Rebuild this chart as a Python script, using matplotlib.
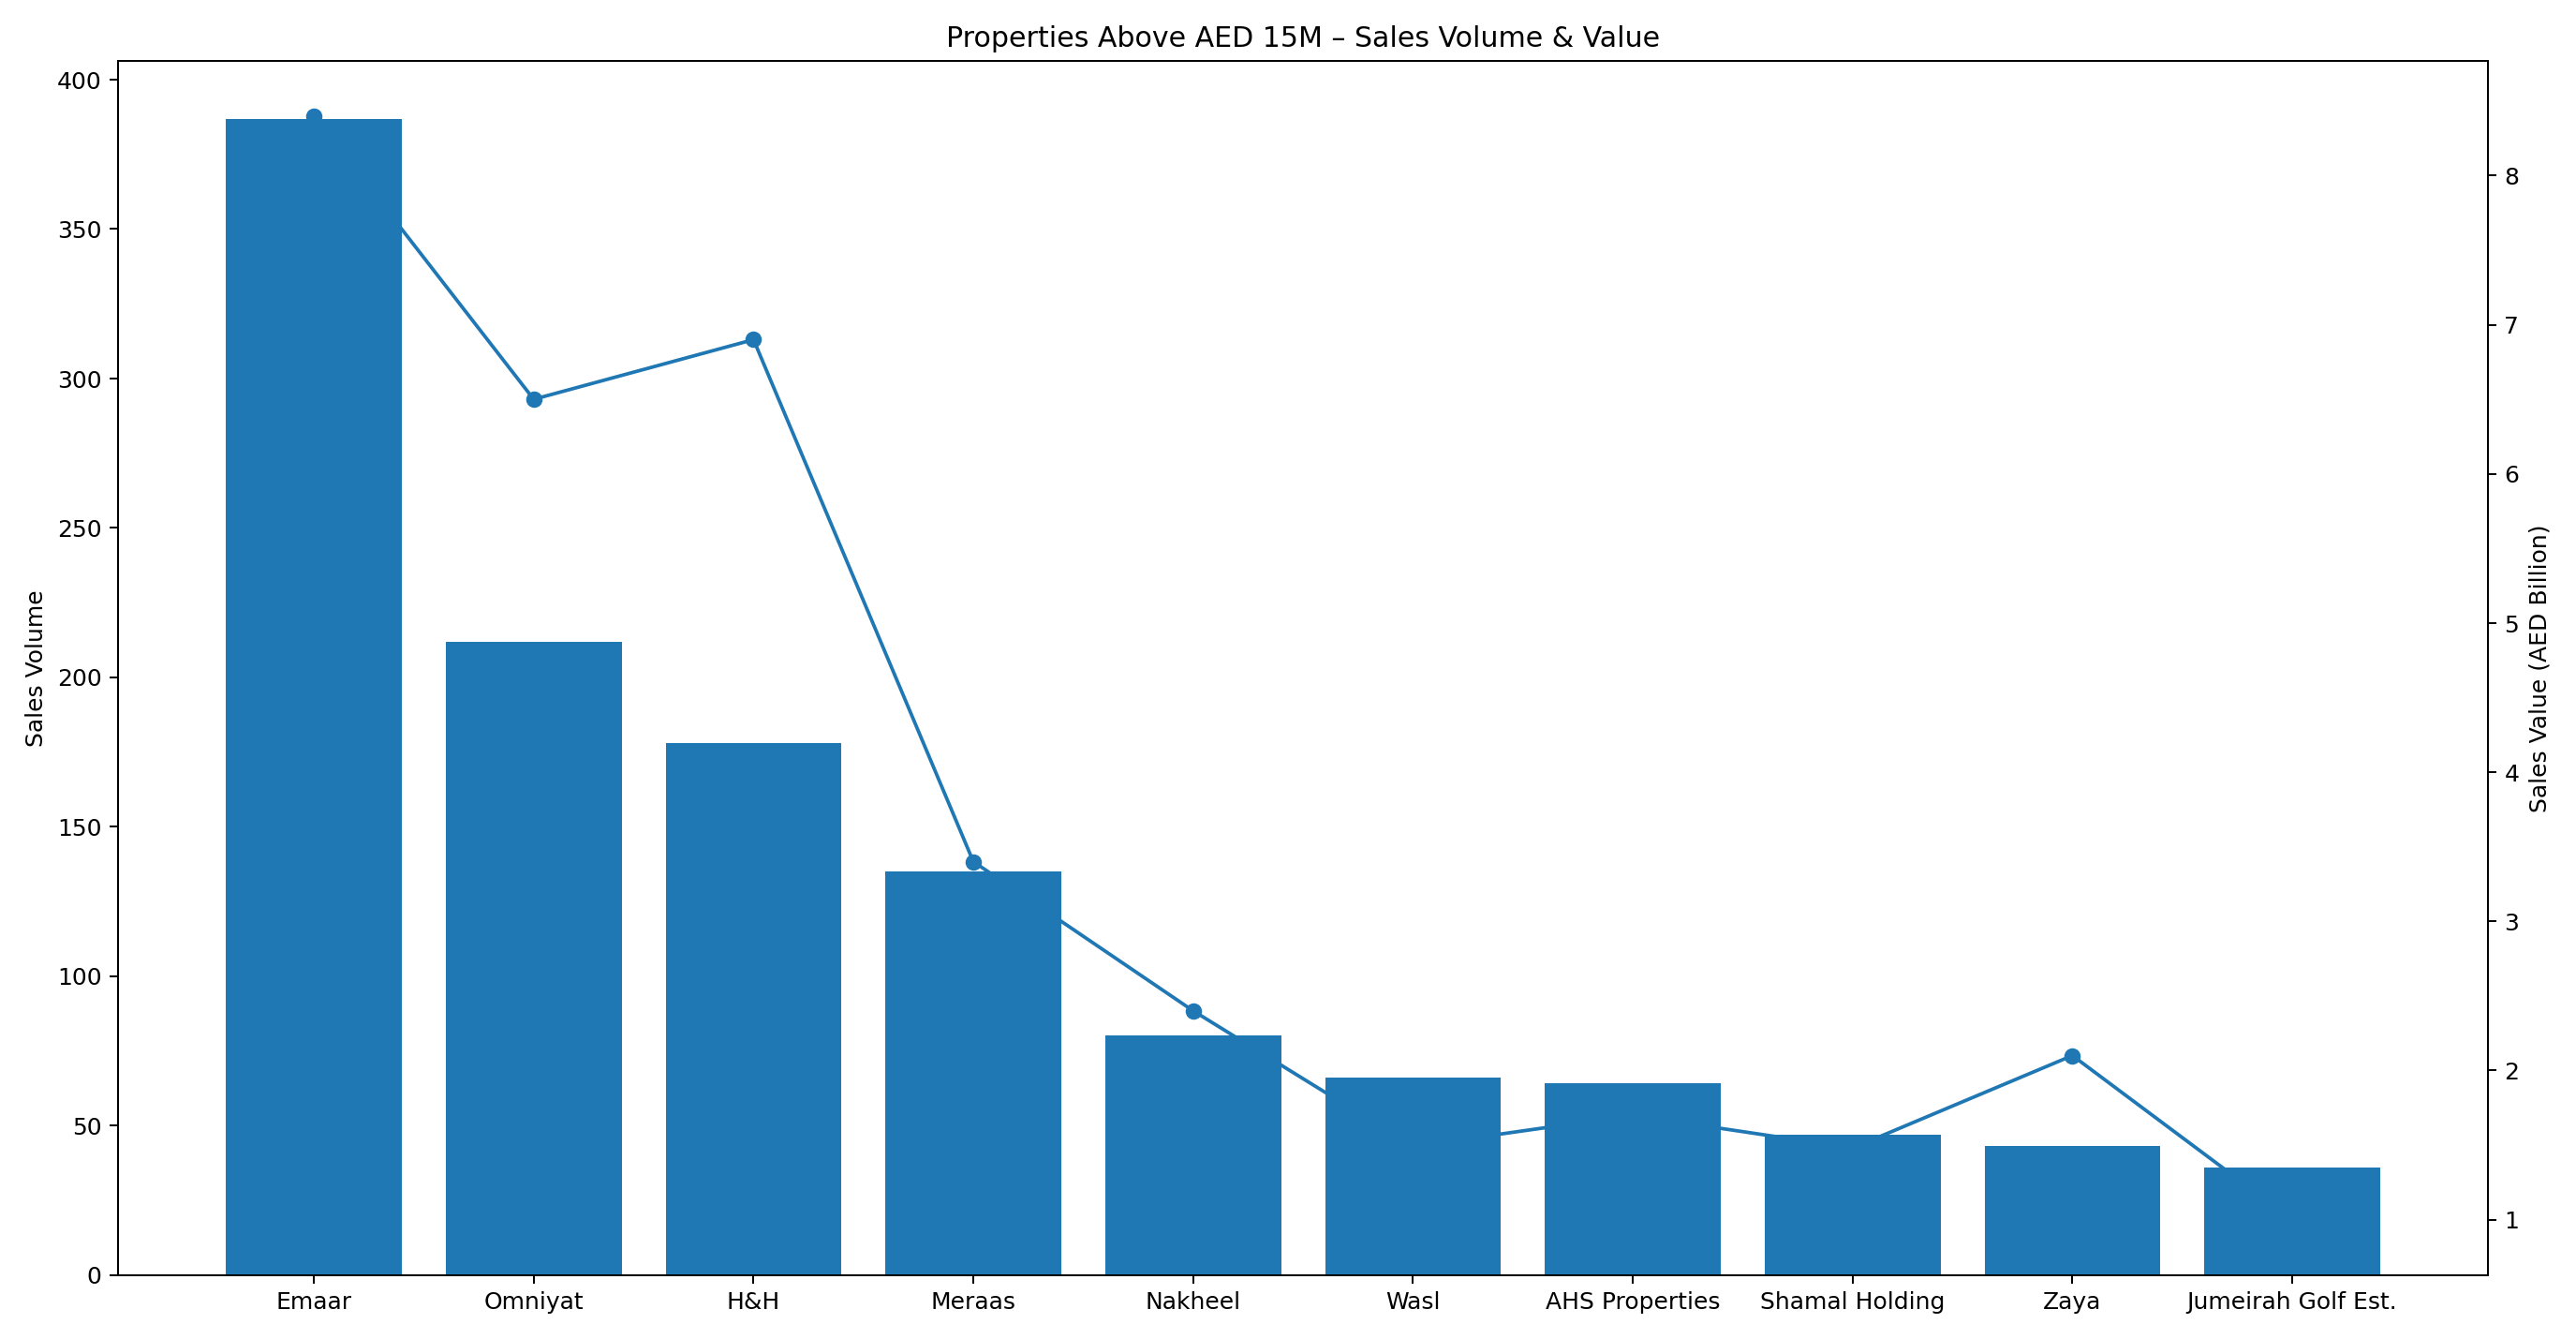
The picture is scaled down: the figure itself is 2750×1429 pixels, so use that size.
import matplotlib
matplotlib.use("Agg")
import matplotlib.pyplot as plt

developers = ["Emaar", "Omniyat", "H&H", "Meraas", "Nakheel", "Wasl",
              "AHS Properties", "Shamal Holding", "Zaya", "Jumeirah Golf Est."]
volume = [387, 212, 178, 135, 80, 66, 64, 47, 43, 36]
value_bn = [8.4, 6.5, 6.9, 3.4, 2.4, 1.49, 1.7, 1.48, 2.1, 1.0]

fig, ax1 = plt.subplots(figsize=(15.28, 7.94), dpi=180)
ax1.bar(developers, volume, color="#1f77b4")
ax1.set_ylabel("Sales Volume")

ax2 = ax1.twinx()
ax2.plot(developers, value_bn, marker="o", color="#1f77b4")
ax2.set_ylabel("Sales Value (AED Billion)")
# line sits behind the bars
ax2.set_zorder(0)
ax1.set_zorder(1)
ax1.patch.set_visible(False)

ax1.set_title("Properties Above AED 15M – Sales Volume & Value")
fig.tight_layout()
fig.savefig("out.png")
